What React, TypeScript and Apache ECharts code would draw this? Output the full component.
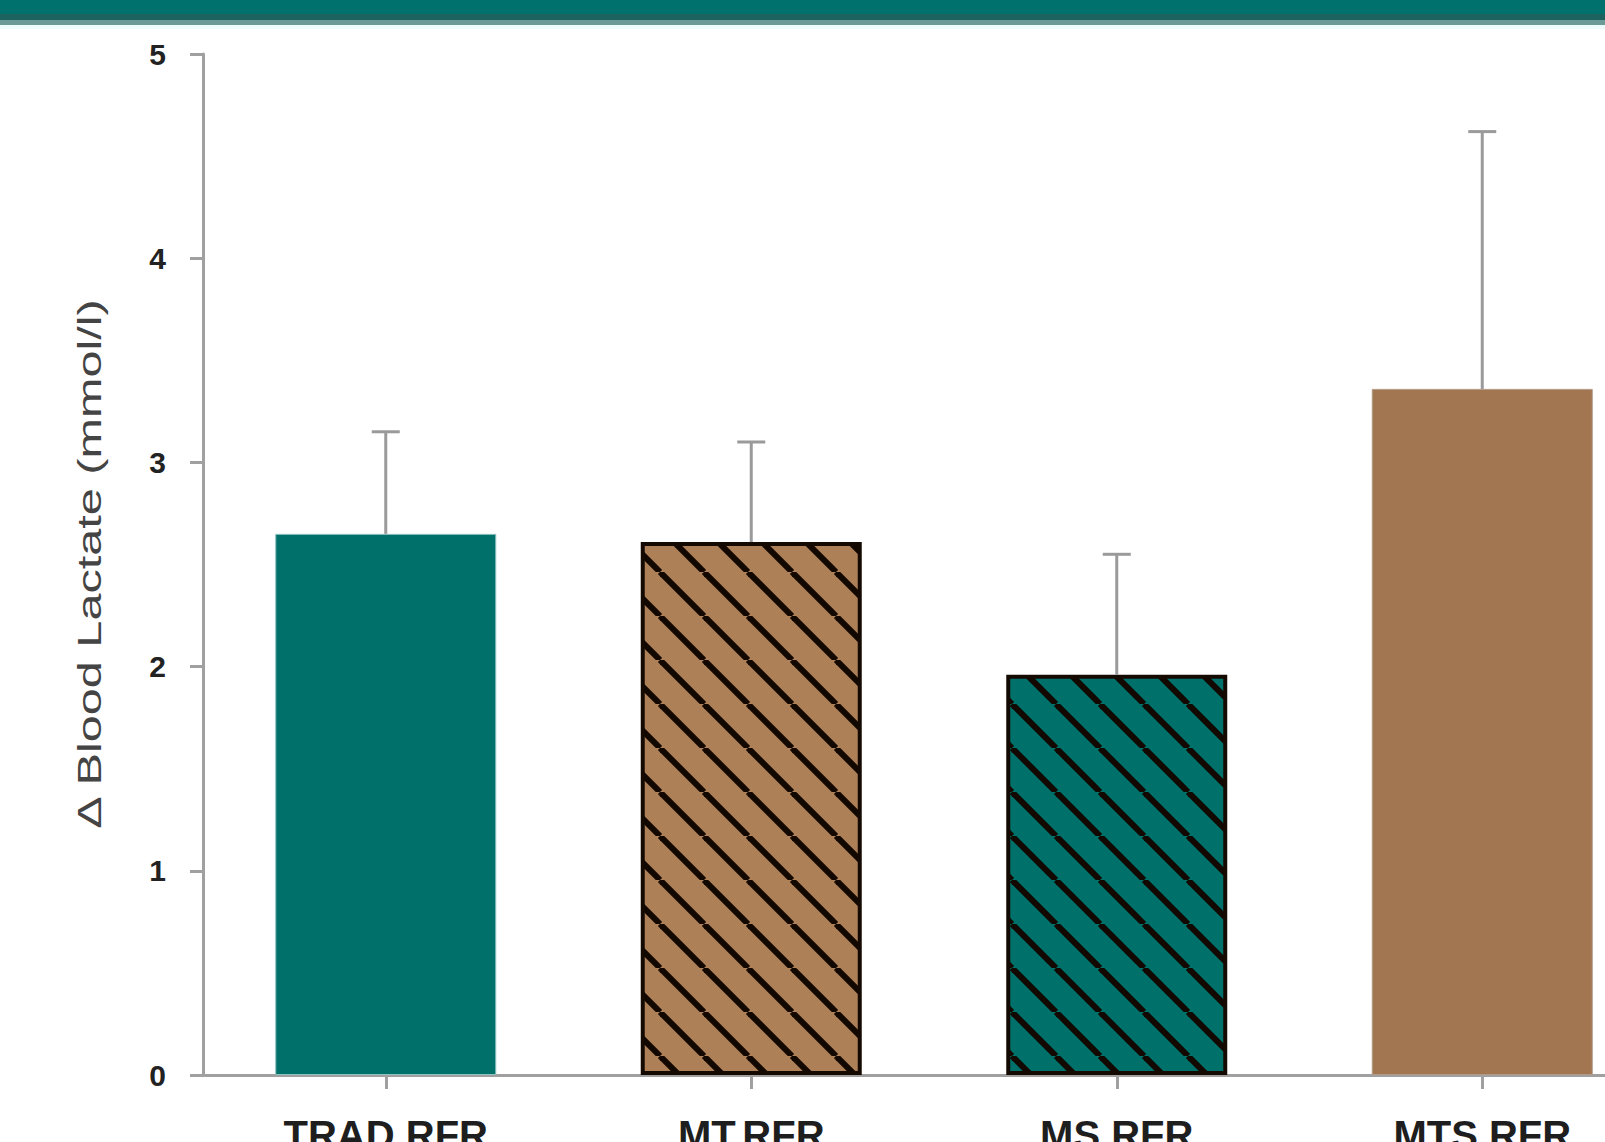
import React, { useEffect, useRef } from "react";
import * as echarts from "echarts";

const categories = ["TRAD.RFR", "MT.RFR", "MS.RFR", "MTS.RFR"];
const meanValues = [2.65, 2.61, 1.96, 3.36];
const sdValues = [0.5, 0.49, 0.59, 1.26];
const yTickLabels = ["0", "1", "2", "3", "4", "5"];
const barColors = ["#00706b", "#ad8058", "#00706b", "#a27650"];
const barHatched = [false, true, true, false];
const yAxisTitle = "\u0394 Blood Lactate (mmol/l)";

function makeHatch(bg: string) {
  const s = 44;
  const c = document.createElement("canvas");
  c.width = s;
  c.height = s;
  const ctx = c.getContext("2d")!;
  ctx.fillStyle = bg;
  ctx.fillRect(0, 0, s, s);
  ctx.strokeStyle = "#120800";
  ctx.lineWidth = 6;
  for (const o of [-s, 0, s]) {
    ctx.beginPath();
    ctx.moveTo(o, 0);
    ctx.lineTo(o + s, s);
    ctx.stroke();
  }
  return { image: c, repeat: "repeat", imageWidth: s, imageHeight: s };
}

export default function App() {
  const ref = useRef<HTMLDivElement>(null);
  useEffect(() => {
    if (!ref.current) return;
    const chart = echarts.init(ref.current, null, { renderer: "svg" });
    const gray = "#a0a0a0";
    const barData = meanValues.map((v, i) => ({
      value: v,
      itemStyle: barHatched[i]
        ? { color: makeHatch(barColors[i]) as any, borderColor: "#140a02", borderWidth: 4 }
        : { color: barColors[i], borderColor: i === 0 ? "#8fc2c0" : "#b09a86", borderWidth: 1 },
    }));
    const errData = meanValues.map((v, i) => [i, v, v + sdValues[i]]);
    chart.setOption({
      animation: false,
      backgroundColor: "#ffffff",
      grid: { left: 203, top: 54, width: 1462, height: 1021, outerBoundsMode: "none", containLabel: false },
      graphic: [
        { type: "rect", shape: { x: 0, y: 0, width: 1700, height: 14 }, style: { fill: "#00716c" }, z: 10 },
        { type: "rect", shape: { x: 0, y: 14, width: 1700, height: 6 }, style: { fill: "#1c625e" }, z: 10 },
        { type: "rect", shape: { x: 0, y: 20, width: 1700, height: 5 }, style: { fill: "#6b9a97" }, z: 10 },
        { type: "rect", shape: { x: 0, y: 25, width: 1700, height: 4 }, style: { fill: "#eefcfc" }, z: 10 },
        {
          type: "text",
          x: 89,
          y: 564,
          rotation: Math.PI / 2,
          scaleX: 1.43,
          style: {
            text: yAxisTitle,
            fontSize: 34,
            fontFamily: "'Liberation Sans', Arial, sans-serif",
            fill: "#444444",
            textAlign: "center",
            textVerticalAlign: "middle",
          },
        },
      ],
      xAxis: {
        type: "category",
        data: categories,
        axisLine: { lineStyle: { color: gray, width: 3 } },
        axisTick: { show: true, alignWithLabel: true, length: 14, lineStyle: { color: gray, width: 3 } },
        axisLabel: {
          fontSize: 40,
          fontWeight: "bold",
          color: "#1e1e1e",
          margin: 40,
          fontFamily: "'Liberation Sans', Arial, sans-serif",
        },
      },
      yAxis: {
        type: "value",
        min: 0,
        max: 5,
        interval: 1,
        splitLine: { show: false },
        axisLine: { show: true, lineStyle: { color: gray, width: 3 } },
        axisTick: { show: true, length: 13, lineStyle: { color: gray, width: 3 } },
        axisLabel: {
          fontSize: 30,
          fontWeight: "bold",
          color: "#222222",
          margin: 37,
          fontFamily: "'Liberation Sans', Arial, sans-serif",
          formatter: (v: number) => yTickLabels[Math.round(v)] ?? String(v),
        },
      },
      series: [
        {
          type: "bar",
          data: barData,
          barWidth: 221,
          z: 2,
        },
        {
          type: "custom",
          data: errData,
          z: 3,
          renderItem: (params: any, api: any) => {
            const base = api.coord([api.value(0), api.value(1)]);
            const top = api.coord([api.value(0), api.value(2)]);
            const hw = 14;
            const style = { stroke: "#9a9a9a", lineWidth: 3 };
            return {
              type: "group",
              children: [
                { type: "line", shape: { x1: base[0], y1: base[1], x2: top[0], y2: top[1] }, style },
                { type: "line", shape: { x1: top[0] - hw, y1: top[1], x2: top[0] + hw, y2: top[1] }, style },
              ],
            };
          },
        },
      ],
    });
    return () => chart.dispose();
  }, []);
  return (
    <div style={{ position: "fixed", left: 0, top: 0, width: 1605, height: 1142, overflow: "hidden", background: "#fff" }}>
      <div ref={ref} style={{ width: 1700, height: 1142 }} />
    </div>
  );
}
